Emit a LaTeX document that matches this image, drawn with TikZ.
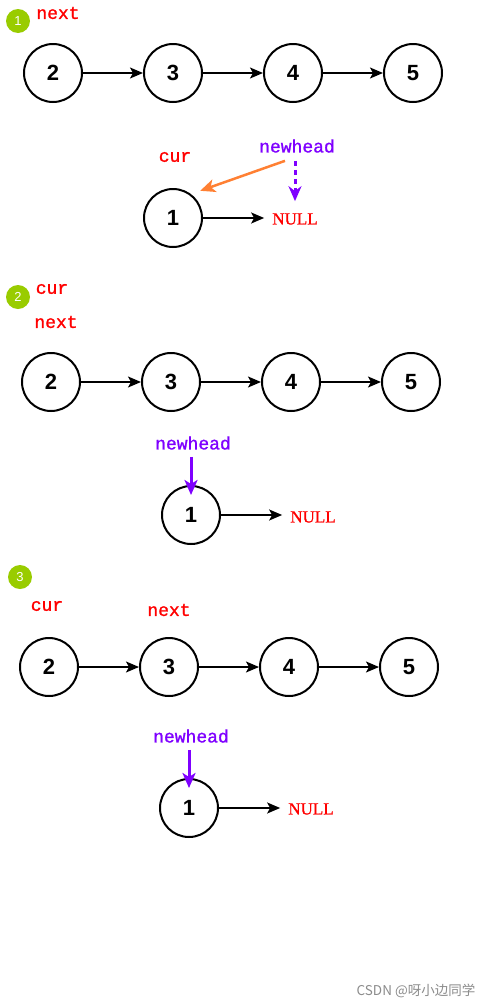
\documentclass[tikz,border=0pt]{standalone}
\usepackage{fontspec}
\setmainfont{Liberation Sans}
\newfontfamily\labelfont[FakeBold=1.2]{Liberation Mono}
\newfontfamily\nullsetfont[FakeBold=1]{Liberation Serif}
\newfontfamily\cjkfont{Noto Sans CJK SC}
\usetikzlibrary{arrows.meta}
\definecolor{badgegreen}{HTML}{99CC00}
\definecolor{ptrred}{HTML}{FF0000}
\definecolor{headpurple}{HTML}{7F00FF}
\definecolor{curorange}{HTML}{FF8033}

\begin{document}
\begin{tikzpicture}[x=1pt,y=-1pt,
  listnode/.style={circle,draw,line width=2pt,minimum size=58pt,inner sep=0pt,font=\bfseries\fontsize{22}{22}\selectfont},
  link/.style={-{Stealth[length=13pt,width=11pt,inset=3pt]},line width=1.6pt},
  badge/.style={circle,fill=badgegreen,text=white,minimum size=24pt,inner sep=0pt,font=\fontsize{13}{13}\selectfont},
  ptr/.style={inner sep=0pt,text=ptrred,font=\labelfont\fontsize{18}{18}\selectfont},
  headlbl/.style={inner sep=0pt,text=headpurple,font=\labelfont\fontsize{18}{18}\selectfont},
  nulllbl/.style={inner sep=0pt,text=ptrred,font=\nullsetfont\fontsize{17}{17}\selectfont},
  headarrow/.style={-{Stealth[length=15pt,width=13pt,inset=4pt]},line width=3pt,headpurple}]
\useasboundingbox[fill=white] (0,0) rectangle (491,1007);

\node[badge] (badge1) at (18,21) {1};
\node[ptr] (next1) at (58,13) {next};
\node[listnode] (a1) at (53,73) {2};
\node[listnode] (b1) at (173,73) {3};
\node[listnode] (c1) at (293,73) {4};
\node[listnode] (d1) at (413,73) {5};
\draw[link] (a1) -- (b1);
\draw[link] (b1) -- (c1);
\draw[link] (c1) -- (d1);
\node[ptr] (cur1) at (175,157) {cur};
\node[headlbl] (newhead1) at (297,146) {newhead};
\node[listnode] (one1) at (173,218) {1};
\node[nulllbl] (null1) at (295,219) {NULL};
\draw[link,shorten >=8pt] (one1.east) -- (null1.west |- one1.east);
\draw[-{Stealth[length=15pt,width=13pt,inset=4pt]},line width=2.5pt,curorange] ([shift={(-12,8)}]newhead1.south) -- ([shift={(6,-6)}]one1.north east);
\draw[-{Stealth[length=15pt,width=13pt,inset=5pt]},line width=3pt,headpurple,dash pattern=on 5pt off 4pt,shorten <=8pt,shorten >=12pt] (newhead1.south -| null1) -- (null1.north);

\node[badge] (badge2) at (18,297) {2};
\node[ptr] (cur2) at (52,289) {cur};
\node[ptr] (next2) at (56,322) {next};
\node[listnode] (a2) at (51,382) {2};
\node[listnode] (b2) at (171,382) {3};
\node[listnode] (c2) at (291,382) {4};
\node[listnode] (d2) at (411,382) {5};
\draw[link] (a2) -- (b2);
\draw[link] (b2) -- (c2);
\draw[link] (c2) -- (d2);
\node[headlbl] (newhead2) at (193,443) {newhead};
\node[listnode] (one2) at (191,515) {1};
\node[nulllbl] (null2) at (313,517) {NULL};
\draw[link,shorten >=8pt] (one2.east) -- (null2.west |- one2.east);
\draw[headarrow,shorten <=7pt,shorten >=-10pt] (newhead2.south -| one2) -- (one2.north);

\node[badge] (badge3) at (20,577) {3};
\node[ptr] (cur3) at (47,606) {cur};
\node[ptr] (next3) at (169,610) {next};
\node[listnode] (a3) at (49,667) {2};
\node[listnode] (b3) at (169,667) {3};
\node[listnode] (c3) at (289,667) {4};
\node[listnode] (d3) at (409,667) {5};
\draw[link] (a3) -- (b3);
\draw[link] (b3) -- (c3);
\draw[link] (c3) -- (d3);
\node[headlbl] (newhead3) at (191,736) {newhead};
\node[listnode] (one3) at (189,808) {1};
\node[nulllbl] (null3) at (311,809) {NULL};
\draw[link,shorten >=8pt] (one3.east) -- (null3.west |- one3.east);
\draw[headarrow,shorten <=7pt,shorten >=-10pt] (newhead3.south -| one3) -- (one3.north);

\node[inner sep=0pt,text=black!45,font=\cjkfont\fontsize{13.5}{13.5}\selectfont] (mark) at (416,991) {CSDN @呀小边同学};
\end{tikzpicture}
\end{document}
